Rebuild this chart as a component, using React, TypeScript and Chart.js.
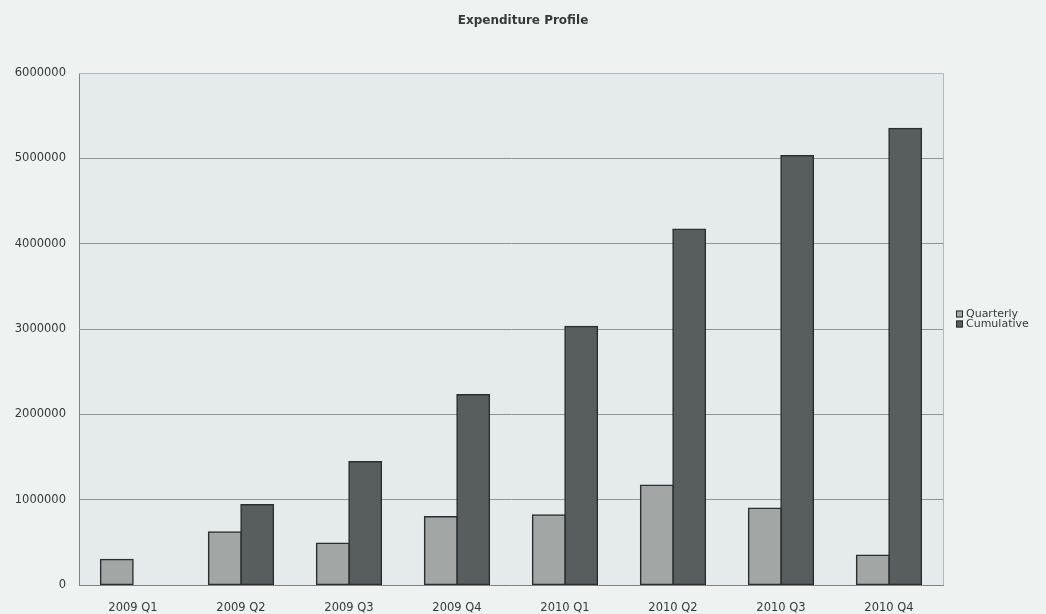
import React, { useEffect, useRef } from "react";
import { Chart, registerables } from "chart.js";

Chart.register(...registerables);

// Quarter labels along the x axis
const quarters = [
  "2009 Q1",
  "2009 Q2",
  "2009 Q3",
  "2009 Q4",
  "2010 Q1",
  "2010 Q2",
  "2010 Q3",
  "2010 Q4",
];

// Spend in each quarter
const quarterly = [300000, 620000, 490000, 800000, 820000, 1170000, 900000, 350000];

// Running total (no cumulative bar shown for the first quarter)
const cumulative = [null, 940000, 1445000, 2230000, 3030000, 4170000, 5030000, 5350000];

const yMax = 6000000;
const yStep = 1000000;

const chartTitle = "Expenditure Profile";
const seriesNames = ["Quarterly", "Cumulative"];
const seriesFill = ["#a2a6a5", "#585d5d"];
const seriesBorder = "#2a2e2e";

const pageBg = "#eef3f2";
const plotBg = "#e4ebea";
const gridColor = "#8f9696";
const textColor = "#353939";
const fontFamily = "'DejaVu Sans', 'Liberation Sans', sans-serif";

// Paints the page and plot backgrounds, then the title, plot frame and legend.
const decorPlugin = {
  id: "decor",
  beforeDraw(chart: any) {
    const { ctx, chartArea, width, height } = chart;
    ctx.save();
    ctx.fillStyle = pageBg;
    ctx.fillRect(0, 0, width, height);
    ctx.fillStyle = plotBg;
    ctx.fillRect(
      chartArea.left,
      chartArea.top,
      chartArea.right - chartArea.left,
      chartArea.bottom - chartArea.top
    );
    ctx.restore();
  },
  afterDraw(chart: any) {
    const { ctx, chartArea, width } = chart;
    ctx.save();

    // title, centred on the whole canvas
    ctx.font = `bold 12px ${fontFamily}`;
    ctx.fillStyle = textColor;
    ctx.textAlign = "center";
    ctx.textBaseline = "middle";
    ctx.fillText(chartTitle, width / 2, 21);

    // frame on the top and right edges of the plot
    ctx.strokeStyle = "#b3baba";
    ctx.lineWidth = 1;
    ctx.beginPath();
    ctx.moveTo(chartArea.left, chartArea.top + 0.5);
    ctx.lineTo(chartArea.right + 0.5, chartArea.top + 0.5);
    ctx.lineTo(chartArea.right + 0.5, chartArea.bottom);
    ctx.stroke();

    // legend
    const lx = 956;
    const ly = [314, 324];
    ctx.font = `11px ${fontFamily}`;
    ctx.textBaseline = "middle";
    ctx.textAlign = "left";
    seriesNames.forEach((name, i) => {
      ctx.fillStyle = seriesFill[i];
      ctx.fillRect(lx, ly[i] - 3.5, 7, 7);
      ctx.strokeStyle = seriesBorder;
      ctx.lineWidth = 1;
      ctx.strokeRect(lx + 0.5, ly[i] - 3, 6, 6);
      ctx.fillStyle = textColor;
      ctx.fillText(name, lx + 10, ly[i] + 0.5);
    });
    ctx.restore();
  },
};

export default function App() {
  const canvasRef = useRef<HTMLCanvasElement | null>(null);

  useEffect(() => {
    const canvas = canvasRef.current;
    if (!canvas) return;
    const barStyle = {
      borderColor: seriesBorder,
      borderWidth: 1.5,
      borderSkipped: false as const,
      inflateAmount: 0.75,
      categoryPercentage: 0.6,
      barPercentage: 1.0,
    };
    const chart = new Chart(canvas, {
      type: "bar",
      data: {
        labels: quarters,
        datasets: [
          {
            label: seriesNames[0],
            data: quarterly,
            backgroundColor: seriesFill[0],
            ...barStyle,
          },
          {
            label: seriesNames[1],
            data: cumulative as any,
            backgroundColor: seriesFill[1],
            ...barStyle,
          },
        ],
      },
      options: {
        responsive: false,
        animation: false,
        devicePixelRatio: 1,
        layout: { padding: { left: 0, right: 103, top: 73, bottom: 0 } },
        plugins: {
          legend: { display: false },
          tooltip: { enabled: false },
          title: { display: false },
        },
        scales: {
          x: {
            grid: { display: false, drawTicks: false },
            border: { display: true, color: "#7d8484", width: 1 },
            ticks: {
              color: textColor,
              padding: 16,
              font: { family: fontFamily, size: 11.5 },
              maxRotation: 0,
              autoSkip: false,
            },
            afterFit(scale: any) {
              scale.height = 29;
            },
          },
          y: {
            min: 0,
            max: yMax,
            grid: { color: gridColor, lineWidth: 1, drawTicks: false },
            border: { display: true, color: "#7d8484", width: 1 },
            ticks: {
              stepSize: yStep,
              color: textColor,
              padding: 13,
              font: { family: fontFamily, size: 11.5 },
              callback: (v: any) => String(v),
            },
            afterFit(scale: any) {
              scale.width = 79;
            },
          },
        },
      },
      plugins: [decorPlugin],
    });
    return () => chart.destroy();
  }, []);

  return (
    <div
      style={{
        position: "fixed",
        left: 0,
        top: 0,
        width: 1046,
        height: 614,
        background: pageBg,
      }}
    >
      <canvas ref={canvasRef} width={1046} height={614} />
    </div>
  );
}
